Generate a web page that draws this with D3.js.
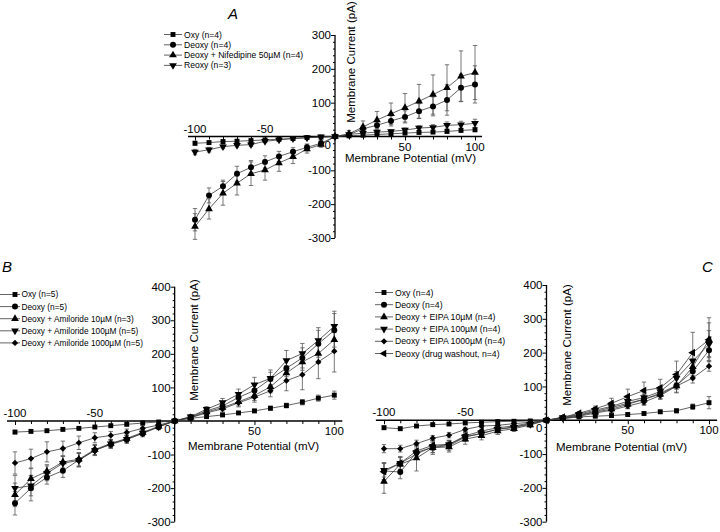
<!DOCTYPE html>
<html><head><meta charset="utf-8">
<script src="https://cdn.jsdelivr.net/npm/d3@7"></script>
<style>
body{margin:0;background:#fff}
svg{display:block}
text{font-family:"Liberation Sans",Arial,sans-serif;fill:#000}
</style>
</head><body><svg id="c" width="720" height="532"></svg>
<script>
// ---------- DATA ----------
const volts = d3.range(-100, 101, 10);
const xTickLabels = [-100, -50, 50, 100];
const yTicksA = [-300, -200, -100, 0, 100, 200, 300];
const yTicksBC = [-300, -200, -100, 0, 100, 200, 300, 400];
const xTitle = "Membrane Potential (mV)";
const yTitle = "Membrane Current (pA)";

// Panel A
const namesA = ["Oxy (n=4)", "Deoxy (n=4)", "Deoxy + Nifedipine 50µM (n=4)", "Reoxy (n=3)"];
const oxyA    = [-20,-18,-15,-14,-12,-10,-8,-6,-3,-2,0,2,4,6,8,10,12,13,15,18,20];
const deoxyA  = [-246,-174,-147,-110,-91,-75,-59,-45,-32,-20,0,5,23,33,46,58,75,89,108,144,154];
const nifA    = [-266,-214,-168,-138,-110,-99,-78,-60,-37,-24,0,8,28,49,67,85,104,124,144,178,189];
const reoxyA  = [-46,-39,-30,-26,-24,-14,-10,-6,-4,-1,0,6,10,13,15,19,25,27,33,35,39];
const oxyAErr   = [6,5,5,4,4,3,3,2,2,1,1,1,2,2,3,3,4,4,5,5,6];
const deoxyAErr = [33,22,18,22,20,18,15,12,10,8,3,6,10,12,15,18,22,28,45,40,55];
const nifAErr   = [38,30,35,35,35,30,25,20,12,8,3,10,18,25,32,42,50,58,68,75,80];
const reoxyAErr = [8,7,6,5,5,4,3,3,2,2,1,2,3,4,5,6,7,8,10,10,12];

// Panel B
const namesB = ["Oxy (n=5)", "Deoxy (n=5)", "Deoxy + Amiloride 10µM (n=3)", "Deoxy + Amiloride 100µM (n=5)", "Deoxy + Amiloride 1000µM (n=5)"];
const oxyB    = [-33,-31,-29,-25,-22,-18,-14,-10,-6,-3,0,8,13,18,24,30,38,46,56,68,77];
const deoxyB  = [-245,-200,-168,-148,-116,-87,-70,-55,-37,-18,0,12,30,45,70,91,125,157,188,230,270];
const am10B   = [-220,-172,-150,-122,-114,-85,-67,-52,-34,-16,0,10,27,40,57,76,102,143,176,201,242];
const am100B  = [-200,-193,-156,-126,-117,-88,-68,-54,-36,-17,0,13,35,55,80,108,127,180,201,240,282];
const am1000B = [-125,-112,-92,-82,-65,-50,-43,-34,-22,-12,0,10,24,36,54,71,90,120,138,176,208];
const oxyBErr    = [5,4,4,4,3,3,3,2,2,2,1,2,3,4,4,5,6,7,8,9,12];
const deoxyBErr  = [35,38,20,20,20,15,12,12,10,8,3,5,8,10,12,15,20,25,30,40,50];
const am10BErr   = [35,30,20,18,20,15,12,10,8,6,3,5,8,10,12,15,18,22,25,30,35];
const am100BErr  = [38,30,22,20,20,15,12,10,8,6,3,5,8,12,15,22,25,30,30,38,45];
const am1000BErr = [33,28,30,22,20,15,12,10,8,6,3,5,8,10,12,15,18,30,45,50,62];

// Panel C
const namesC = ["Oxy (n=4)", "Deoxy (n=4)", "Deoxy + EIPA 10µM (n=4)", "Deoxy + EIPA 100µM (n=4)", "Deoxy + EIPA 1000µM (n=4)", "Deoxy (drug washout, n=4)"];
const oxyC      = [-22,-25,-17,-13,-11,-8,-6,-4,-3,-2,0,5,10,12,14,17,20,25,28,40,52];
const deoxyC    = [-150,-153,-95,-80,-75,-50,-38,-27,-20,-10,0,7,16,26,38,50,62,80,103,145,207];
const eipa10C   = [-181,-130,-112,-81,-79,-56,-46,-32,-25,-14,0,5,14,24,33,47,62,77,101,158,238];
const eipa100C  = [-148,-127,-100,-78,-72,-48,-40,-26,-21,-12,0,8,18,30,41,56,67,85,124,175,225];
const eipa1000C = [-84,-84,-69,-53,-44,-27,-17,-15,-10,-6,0,5,12,21,30,42,54,73,101,125,160];
const washC     = [-152,-127,-91,-74,-71,-46,-32,-22,-17,-8,0,9,21,34,50,70,88,96,135,200,238];
const oxyCErr      = [5,5,4,4,3,3,3,2,2,2,1,2,2,3,3,4,4,5,6,8,18];
const deoxyCErr    = [25,20,20,15,15,12,10,8,6,5,2,3,5,8,10,15,15,15,20,25,30];
const eipa10CErr   = [35,20,38,20,15,15,12,10,8,6,2,3,5,8,10,12,15,15,20,25,50];
const eipa100CErr  = [20,18,15,18,12,12,10,8,6,5,2,3,5,8,10,12,15,15,20,25,40];
const eipa1000CErr = [12,10,10,8,8,6,5,4,4,3,2,3,4,5,6,8,10,10,10,15,15];
const washCErr     = [25,20,15,15,12,12,10,8,6,5,2,3,5,8,15,22,25,25,40,60,65];

// ---------- SHAPES ----------
const shapes = {
  square:  {type: d3.symbolSquare,   size: 24, rot: 0},
  circle:  {type: d3.symbolCircle,   size: 28, rot: 0},
  triUp:   {type: d3.symbolTriangle, size: 26, rot: 0},
  triDown: {type: d3.symbolTriangle, size: 26, rot: 180},
  diamond: {type: d3.symbolSquare,   size: 20, rot: 45},
  triLeft: {type: d3.symbolTriangle, size: 26, rot: -90}
};

const panels = [
  { letter: "A", letterX: 228, letterY: 19,
    xRange: [195, 475], yDomain: [-300, 300], yRange: [238, 35], yTicks: yTicksA,
    xTitleX: 345, xTitleDy: 25, yTitleX: 355, yTitleY: 62,
    legend: {x: 164, lineEnd: 182, mark: 173, text: 184, y0: 34.5, dy: 10.3, font: 8.6},
    series: [
      {name: namesA[0], v: oxyA, e: oxyAErr, s: "square"},
      {name: namesA[1], v: deoxyA, e: deoxyAErr, s: "circle"},
      {name: namesA[2], v: nifA, e: nifAErr, s: "triUp"},
      {name: namesA[3], v: reoxyA, e: reoxyAErr, s: "triDown"}
    ]},
  { letter: "B", letterX: 2, letterY: 272,
    xRange: [15, 334.3], yDomain: [-300, 400], yRange: [521.7, 286.7], yTicks: yTicksBC,
    xTitleX: 188, xTitleDy: 29, yTitleX: 198, yTitleY: 340,
    legend: {x: 0, lineEnd: 20, mark: 15, text: 21.5, y0: 294.5, dy: 12.1, font: 8.3},
    series: [
      {name: namesB[0], v: oxyB, e: oxyBErr, s: "square"},
      {name: namesB[1], v: deoxyB, e: deoxyBErr, s: "circle"},
      {name: namesB[2], v: am10B, e: am10BErr, s: "triUp"},
      {name: namesB[3], v: am100B, e: am100BErr, s: "triDown"},
      {name: namesB[4], v: am1000B, e: am1000BErr, s: "diamond"}
    ]},
  { letter: "C", letterX: 702, letterY: 272,
    xRange: [384, 709], yDomain: [-300, 400], yRange: [521.7, 285], yTicks: yTicksBC,
    xTitleX: 556, xTitleDy: 31, yTitleX: 571, yTitleY: 345,
    legend: {x: 375, lineEnd: 393, mark: 384, text: 395, y0: 292.5, dy: 12.2, font: 8.7},
    series: [
      {name: namesC[0], v: oxyC, e: oxyCErr, s: "square"},
      {name: namesC[1], v: deoxyC, e: deoxyCErr, s: "circle"},
      {name: namesC[2], v: eipa10C, e: eipa10CErr, s: "triUp"},
      {name: namesC[3], v: eipa100C, e: eipa100CErr, s: "triDown"},
      {name: namesC[4], v: eipa1000C, e: eipa1000CErr, s: "diamond"},
      {name: namesC[5], v: washC, e: washCErr, s: "triLeft"}
    ]}
];

const svg = d3.select("#c");

function marker(g, shapeKey, x, y) {
  const sh = shapes[shapeKey];
  g.append("path")
    .attr("d", d3.symbol().type(sh.type).size(sh.size)())
    .attr("transform", `translate(${x},${y}) rotate(${sh.rot})`)
    .attr("fill", "#000");
}

panels.forEach(p => {
  const g = svg.append("g");
  const x = d3.scaleLinear().domain([-100, 100]).range(p.xRange);
  const y = d3.scaleLinear().domain(p.yDomain).range(p.yRange);
  const x0 = x(0), y0 = y(0);

  // x axis (ticks every 10 mV, pointing down)
  const xMinor = volts.filter(v => !xTickLabels.includes(v) && v !== 0);
  const xa = g.append("g").attr("transform", `translate(0,${y0})`)
    .call(d3.axisBottom(x).tickValues(xMinor).tickSize(3).tickFormat(""));
  xa.select(".domain").remove();
  const xa2 = g.append("g").attr("transform", `translate(0,${y0})`)
    .call(d3.axisBottom(x).tickValues(xTickLabels).tickSize(4).tickFormat(""));
  xa2.select(".domain").remove();
  g.selectAll(".tick line").attr("stroke", "#000").attr("stroke-width", 1);
  g.append("line").attr("x1", x(-105)).attr("x2", x(105)).attr("y1", y0).attr("y2", y0)
    .attr("stroke", "#000").attr("stroke-width", 1.3);

  // y axis
  const [ymin, ymax] = p.yDomain;
  const yMinor = d3.range(ymin, ymax + 1, 20).filter(v => v % 100 !== 0);
  const ya = g.append("g").attr("transform", `translate(${x0},0)`)
    .call(d3.axisLeft(y).tickValues(yMinor).tickSize(2).tickFormat(""));
  ya.select(".domain").remove();
  const ya2 = g.append("g").attr("transform", `translate(${x0},0)`)
    .call(d3.axisLeft(y).tickValues(p.yTicks).tickSize(4).tickFormat(""));
  ya2.select(".domain").remove();
  g.selectAll(".tick line").attr("stroke", "#000").attr("stroke-width", 1);
  g.append("line").attr("x1", x0).attr("x2", x0).attr("y1", y(ymin)).attr("y2", y(ymax))
    .attr("stroke", "#000").attr("stroke-width", 1.3);

  // y tick labels
  g.selectAll(".ylab").data(p.yTicks).join("text")
    .attr("x", x0 - 4).attr("y", d => y(d) + (d === 0 ? 8 : 0))
    .attr("dy", "0.36em").attr("text-anchor", "end")
    .attr("font-size", 11.5).text(d => d);

  // x tick labels: negatives above, positives below
  g.selectAll(".xlab").data(xTickLabels).join("text")
    .attr("x", d => x(d)).attr("y", d => d < 0 ? y0 - 4 : y0 + 14)
    .attr("text-anchor", "middle").attr("font-size", 11.5).text(d => d);

  // axis titles
  g.append("text").attr("x", p.xTitleX).attr("y", y0 + p.xTitleDy)
    .attr("font-size", 11.5).text(xTitle);
  g.append("text").attr("transform", `translate(${p.yTitleX},${p.yTitleY}) rotate(-90)`)
    .attr("text-anchor", "middle").attr("font-size", 11.5).text(yTitle);

  // panel letter
  g.append("text").attr("x", p.letterX).attr("y", p.letterY)
    .attr("font-size", 15).attr("font-style", "italic").text(p.letter);

  // series lines
  const line = d3.line().x((d, i) => x(volts[i])).y(d => y(d));
  p.series.forEach(s => {
    g.append("path").attr("d", line(s.v)).attr("fill", "none")
      .attr("stroke", "#3a3a3a").attr("stroke-width", 0.8);
  });
  // error bars
  p.series.forEach(s => {
    s.v.forEach((v, i) => {
      const e = s.e[i];
      const xi = x(volts[i]);
      const eb = g.append("g").attr("stroke", "#555").attr("stroke-width", 0.8);
      eb.append("line").attr("x1", xi).attr("x2", xi).attr("y1", y(v - e)).attr("y2", y(v + e));
      eb.append("line").attr("x1", xi - 2.2).attr("x2", xi + 2.2).attr("y1", y(v - e)).attr("y2", y(v - e));
      eb.append("line").attr("x1", xi - 2.2).attr("x2", xi + 2.2).attr("y1", y(v + e)).attr("y2", y(v + e));
    });
  });
  // markers
  p.series.forEach(s => {
    s.v.forEach((v, i) => marker(g, s.s, x(volts[i]), y(v)));
  });

  // legend
  const L = p.legend;
  p.series.forEach((s, i) => {
    const ly = L.y0 + i * L.dy;
    g.append("line").attr("x1", L.x).attr("x2", L.lineEnd).attr("y1", ly).attr("y2", ly)
      .attr("stroke", "#3a3a3a").attr("stroke-width", 0.8);
    marker(g, s.s, L.mark, ly);
    g.append("text").attr("x", L.text).attr("y", ly).attr("dy", "0.35em")
      .attr("font-size", L.font).text(s.name);
  });
});
</script>
</body></html>
